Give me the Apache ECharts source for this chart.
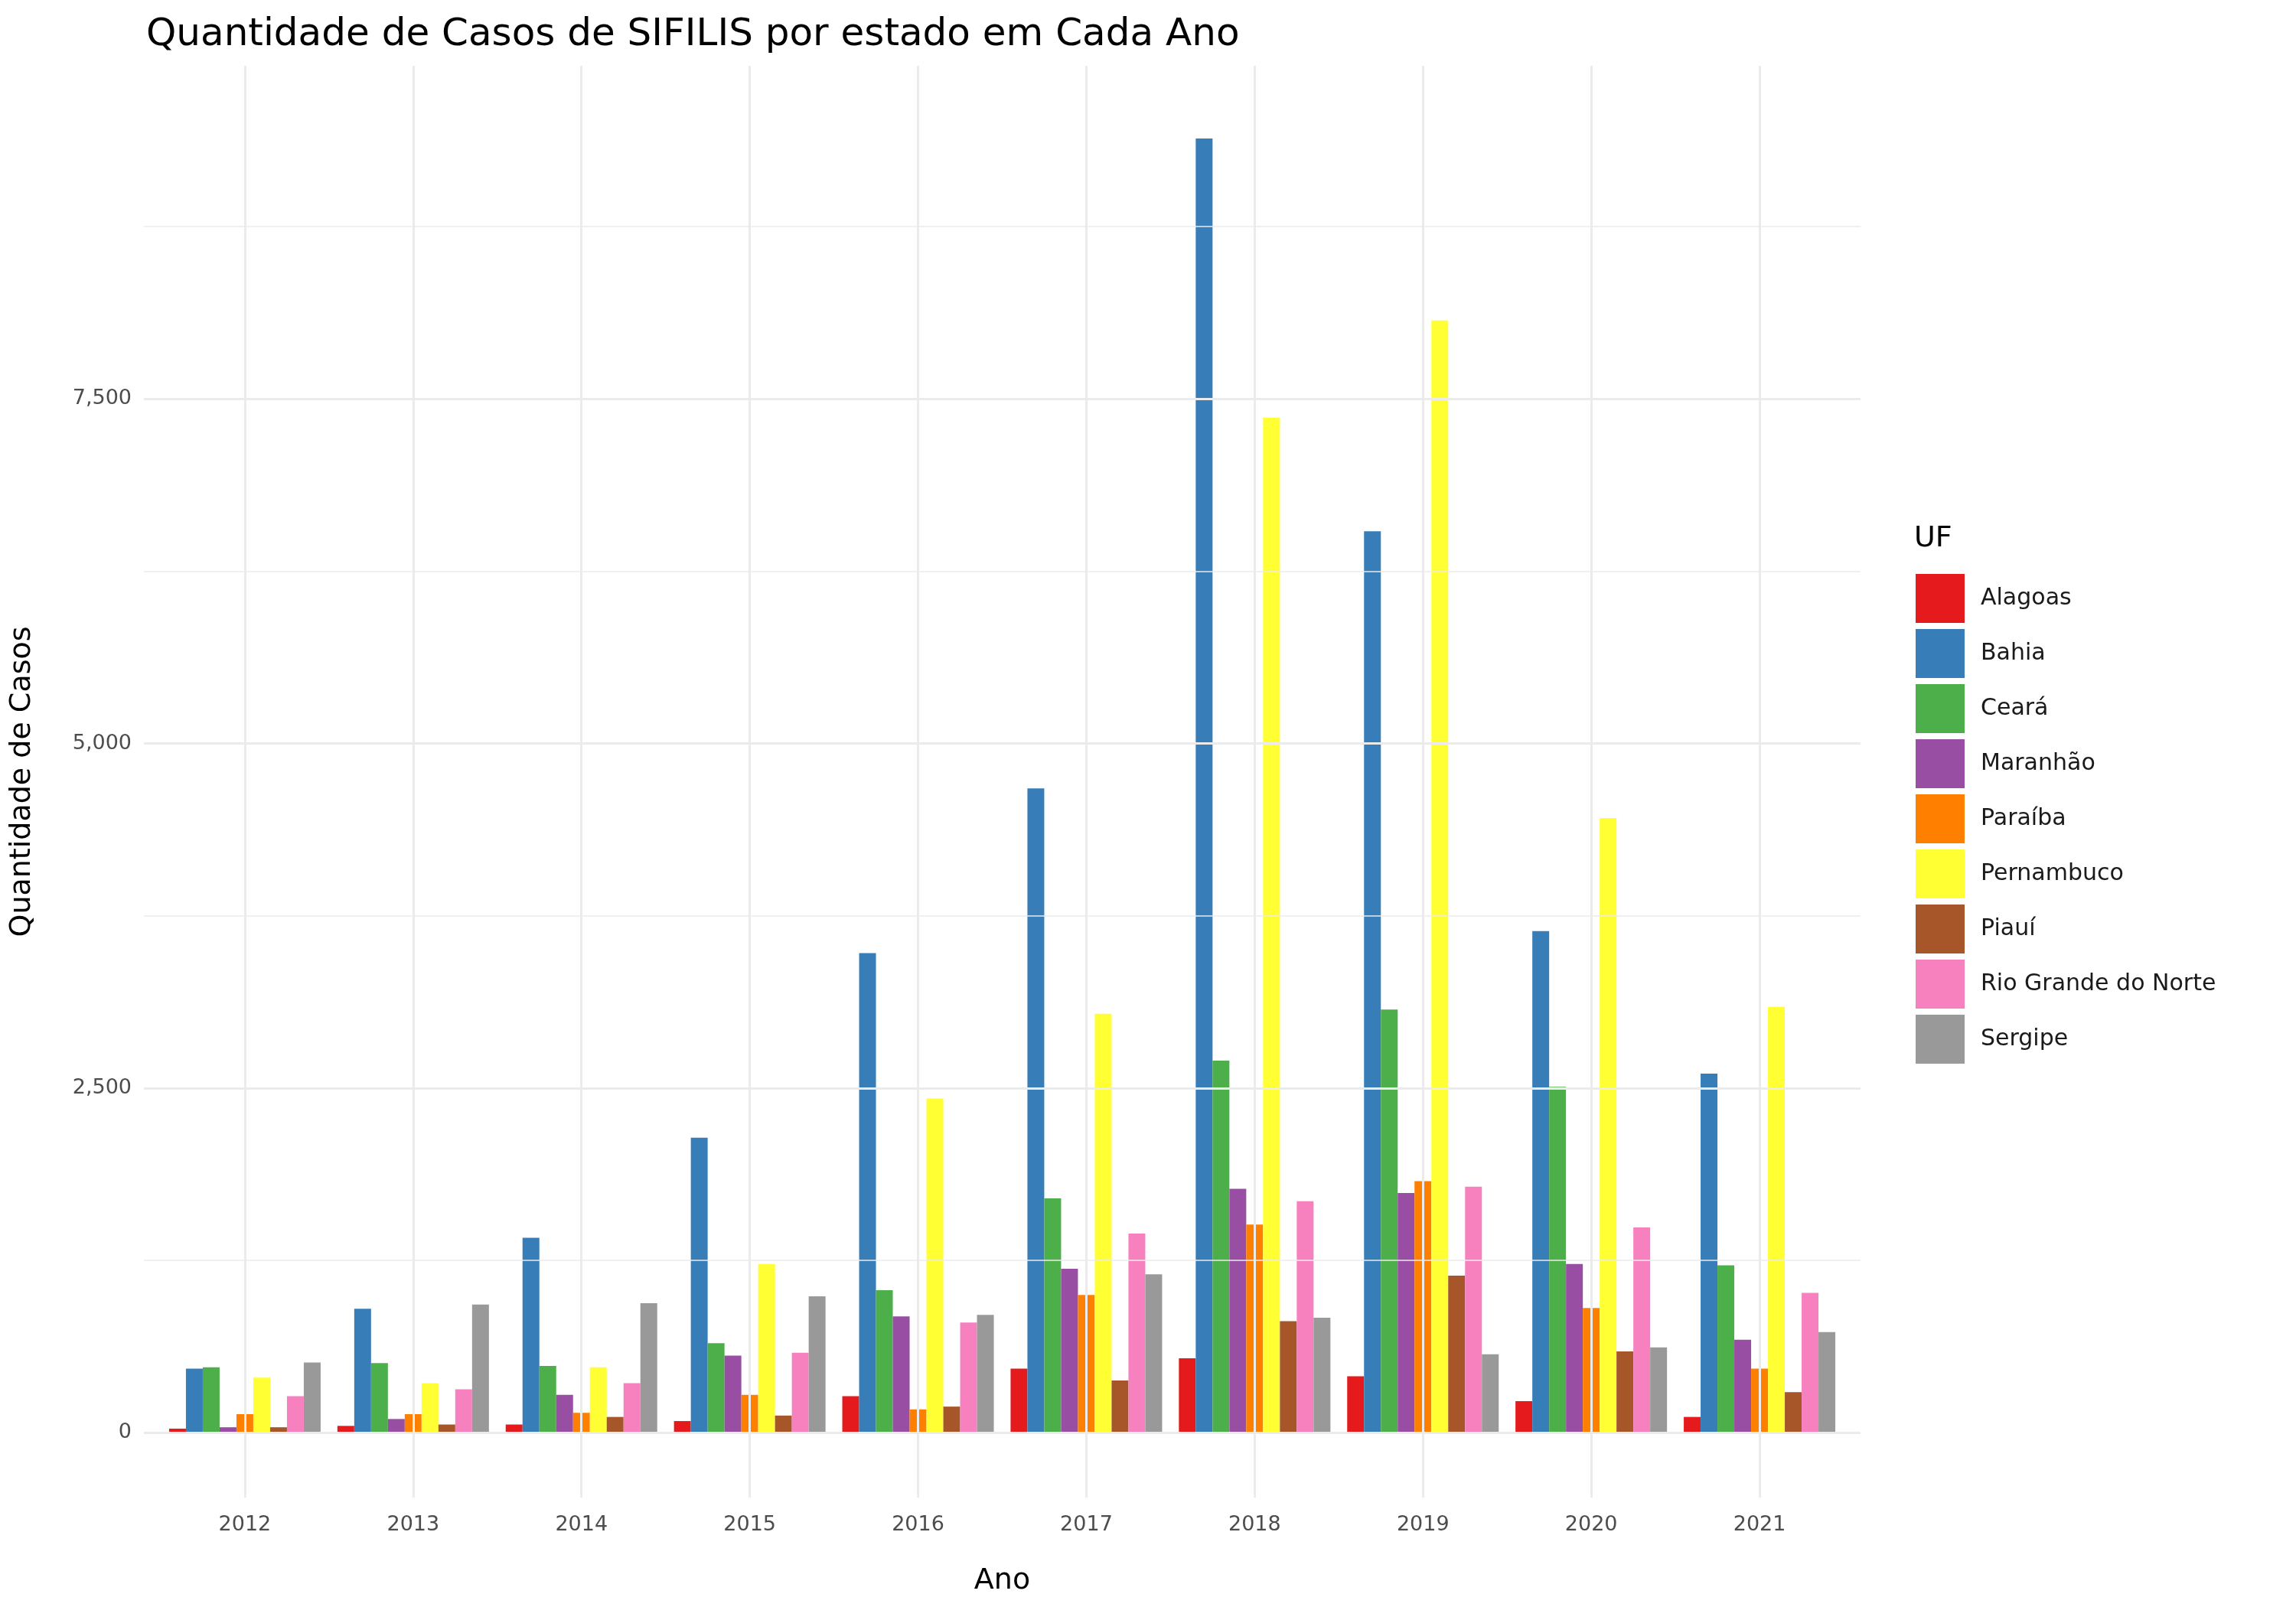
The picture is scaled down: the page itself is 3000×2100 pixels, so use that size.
<!DOCTYPE html>
<html lang="pt">
<head>
<meta charset="UTF-8">
<title>SIFILIS</title>
<script src="https://cdn.jsdelivr.net/npm/echarts@6/dist/echarts.min.js"></script>
<style>html,body{margin:0;background:#fff}#c{width:3000px;height:2100px}</style>
</head>
<body>
<div id="c"></div>
<script>
var anos = [2012, 2013, 2014, 2015, 2016, 2017, 2018, 2019, 2020, 2021];
var estados = ['Alagoas', 'Bahia', 'Ceará', 'Maranhão', 'Paraíba', 'Pernambuco', 'Piauí', 'Rio Grande do Norte', 'Sergipe'];
var cores = ['#E41A1C', '#377EB8', '#4DAF4A', '#984EA3', '#FF7F00', '#FFFF33', '#A65628', '#F781BF', '#999999'];
var alagoas = [30, 50, 60, 85, 265, 465, 540, 410, 230, 115];
var bahia = [465, 900, 1415, 2140, 3480, 4675, 9390, 6540, 3640, 2605];
var ceara = [475, 505, 485, 650, 1035, 1700, 2700, 3070, 2510, 1215];
var maranhao = [40, 100, 275, 560, 845, 1190, 1770, 1740, 1225, 675];
var paraiba = [135, 135, 145, 275, 170, 1000, 1510, 1825, 905, 465];
var pernambuco = [400, 360, 475, 1225, 2425, 3040, 7365, 8070, 4460, 3090];
var piaui = [40, 60, 115, 125, 190, 380, 810, 1140, 590, 295];
var rgn = [265, 315, 360, 580, 800, 1445, 1680, 1785, 1490, 1015];
var sergipe = [510, 930, 940, 990, 855, 1150, 835, 570, 620, 730];
var valores = [alagoas, bahia, ceara, maranhao, paraiba, pernambuco, piaui, rgn, sergipe];
var yLabels = [0, 2500, 5000, 7500];
var yGrid = [0, 1250, 2500, 3750, 5000, 6250, 7500, 8750];

var chart = echarts.init(document.getElementById('c'));

var gridLines = [];
anos.forEach(function (a) {
    gridLines.push({ xAxis: a, lineStyle: { color: '#ebebeb', width: 3, type: 'solid' } });
});
yGrid.forEach(function (v) {
    var major = yLabels.indexOf(v) >= 0;
    gridLines.push({ yAxis: v, lineStyle: { color: '#ebebeb', width: major ? 3 : 1.5, type: 'solid' } });
});

var series = [{
    type: 'line', data: [], z: 1, silent: true, animation: false,
    markLine: { silent: true, symbol: 'none', label: { show: false }, animation: false, data: gridLines }
}];
estados.forEach(function (e, i) {
    series.push({
        name: e, type: 'bar', z: 2, barWidth: 22, barGap: 0,
        itemStyle: { color: cores[i] },
        data: anos.map(function (a, j) { return [a, valores[i][j]]; })
    });
});

chart.setOption({
    animation: false,
    textStyle: { fontFamily: 'DejaVu Sans' },
    title: [
        { text: 'Quantidade de Casos de SIFILIS por estado em Cada Ano', left: 186, top: 16,
          textStyle: { fontSize: 50, fontWeight: 'normal', color: '#000' } },
        { text: 'UF', left: 2496, top: 680, textStyle: { fontSize: 38, fontWeight: 'normal', color: '#000' } }
    ],
    legend: {
        orient: 'vertical', left: 2498, top: 745, icon: 'rect',
        itemWidth: 64, itemHeight: 64, itemGap: 8,
        textStyle: { fontSize: 30, color: '#1a1a1a', padding: [0, 0, 0, 16] },
        data: estados
    },
    grid: { left: 188, right: 569, top: 86, bottom: 143 },
    xAxis: {
        type: 'value', min: 2011.4, max: 2021.6,
        name: 'Ano', nameLocation: 'middle', nameGap: 90,
        nameTextStyle: { fontSize: 38, color: '#000' },
        axisLine: { show: false }, axisTick: { show: false }, splitLine: { show: false },
        axisLabel: { customValues: anos, fontSize: 27, color: '#4d4d4d', margin: 22,
                     formatter: function (v) { return String(v); } }
    },
    yAxis: {
        type: 'value', min: -470, max: 9917,
        name: 'Quantidade de Casos', nameLocation: 'middle', nameGap: 140,
        nameTextStyle: { fontSize: 38, color: '#000' },
        axisLine: { show: false }, axisTick: { show: false }, splitLine: { show: false },
        axisLabel: { customValues: yLabels, fontSize: 27, color: '#4d4d4d', margin: 16 }
    },
    series: series
});
</script>
</body>
</html>
